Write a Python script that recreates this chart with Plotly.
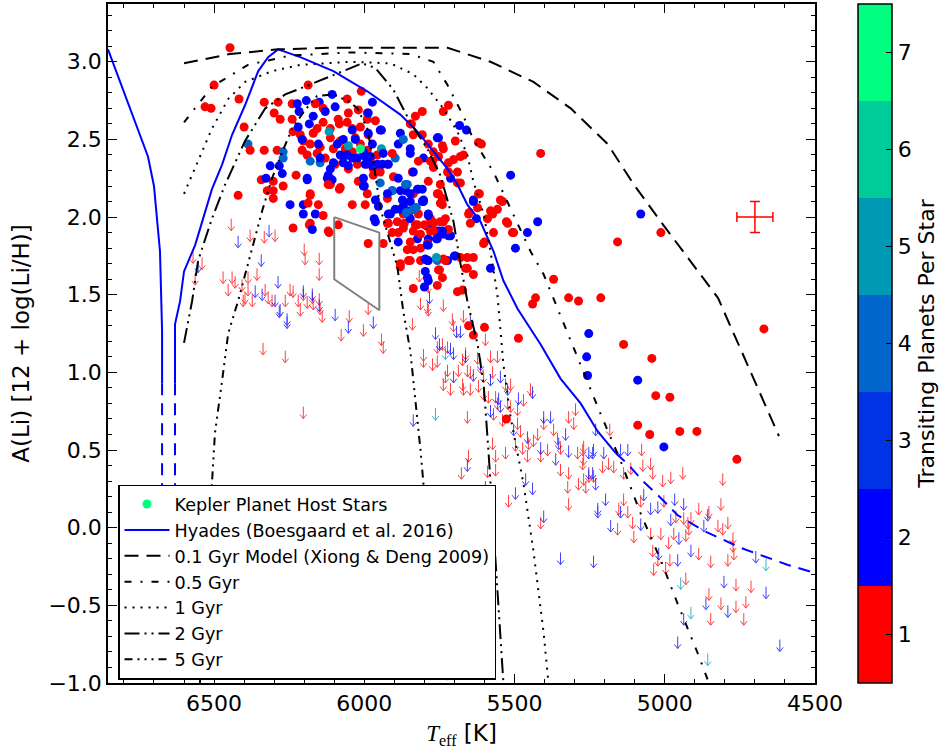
import plotly.graph_objects as go

# ---------------- data ----------------
# Kepler planet hosts with Li detections: Teff [K], A(Li), number of transiting planets
det_teff = [6447,6500,6530,6510,6417,6400,6387,6380,6333,6287,6300,6280,6240,6187,6223,6193,6217,6150,6107,6057,
            6137,6130,6097,6170,6240,6020,5973,5990,5963,5943,5880,5887,5837,5807,5720,5740,5757,5680,5683,5660,
            5620,5610,5843,5847,5847,5803,5773,5720,5770,5713,5690,5617,5637,5580,5627,5753,5740,5837,5823,5807,
            5873,5907,5923,5903,5913,5870,5870,5847,5820,5780,5770,5747,5730,5747,5720,5653,5623,5647,6333,6290,
            6270,6270,6313,6283,6273,6343,6303,6327,6323,6303,6303,6270,6227,6190,6420,6180,6247,6203,6187,6153,
            6203,6163,6180,6237,6117,6087,6113,6120,6040,5997,5990,6020,6000,6083,5967,5923,5867,6237,6213,6203,
            6207,6190,6157,6147,6130,6170,6137,6113,6087,6057,6040,6013,5990,5987,6030,6040,6013,5990,5980,5957,
            5990,6023,6097,6053,5970,6080,6103,6063,6113,6220,6183,6153,6090,6080,6057,6040,6103,6070,6053,6003,
            5987,6117,6053,5943,6013,6180,6147,6010,6163,6053,5987,6083,6157,6207,6180,6070,6040,6030,5987,5947,
            5973,6147,6070,6023,5997,5980,5937,5870,5897,5907,5923,5947,5970,5973,5957,5940,5920,5997,6113,6123,
            6107,6190,6003,6003,5947,5907,5857,5923,5887,5880,5847,5820,5807,5803,5830,5847,5880,5920,5897,5963,
            5953,5963,5857,5847,5837,5787,5790,5787,5753,5757,5737,5713,5887,5823,5787,5790,5797,5790,5757,5723,
            5697,5580,5753,5513,5423,5457,5497,5637,5847,5830,5737,5807,5787,5770,5753,5737,5723,5747,5757,5747,
            5703,5690,5680,5697,5670,5737,5720,5773,5780,5813,5837,5847,5870,5887,5907,5920,5890,5823,5813,5837,
            5857,5847,5880,5813,5753,5730,5680,5657,5637,5663,5637,5620,5590,5573,5557,5540,5523,5503,5570,5603,
            5413,6180,6137,6183,6120,5987,5937,6080,6120,6173,5820,5780,5840,5787,5720,5547,5650,5527,5507,5600,
            5740,5800,5830,5770,5790,5853,5737,5750,5740,5757,5837,5690,5657,5370,5430,5440,5320,5287,5213,5157,
            5013,5837,5863,5803,5787,5740,5760,5790,5787,5800,5787,5080,5827,5860,5863,5487,5527,5600,5637,5653,
            5673,5880,5797,5760,5700,5253,5260,5257,5030,4983,5090,5050,4950,4893,5003,4760,5090,4670,5137,5043]
det_ali = [3.09,2.85,2.71,2.70,2.76,2.58,2.47,2.43,2.74,2.74,2.67,2.63,2.73,2.85,2.73,2.75,2.68,2.74,2.79,2.76,
           2.70,2.68,2.71,2.65,2.63,2.69,2.74,2.67,2.62,2.56,2.54,2.47,2.53,2.68,2.72,2.46,2.51,2.39,2.59,2.56,
           2.48,2.47,2.60,2.44,2.41,2.38,2.36,2.35,2.32,2.25,2.22,2.15,2.11,2.04,1.99,2.15,2.08,2.15,2.18,2.10,
           2.11,2.17,2.12,2.26,2.02,2.02,2.07,2.04,2.02,1.99,1.96,1.97,1.99,1.90,1.88,2.02,2.06,1.96,2.43,2.43,
           2.42,2.38,2.33,2.33,2.28,2.24,2.23,2.25,2.17,2.17,2.12,2.20,2.27,2.24,2.14,2.14,2.08,2.08,2.09,2.08,
           2.02,2.02,1.96,1.93,1.90,1.95,2.21,2.27,2.08,2.08,2.15,2.23,2.20,2.18,1.99,1.96,1.96,2.55,2.53,2.49,
           2.43,2.40,2.41,2.45,2.38,2.54,2.61,2.57,2.63,2.61,2.57,2.58,2.63,2.53,2.51,2.42,2.47,2.43,2.37,2.40,
           2.34,2.34,2.34,2.31,2.27,2.49,2.44,2.44,2.51,2.58,2.60,2.47,2.47,2.40,2.40,2.38,2.35,2.35,2.33,2.42,
           2.38,2.55,2.46,2.44,2.44,2.36,2.35,2.81,2.73,2.67,2.67,2.60,2.57,2.50,2.47,2.50,2.56,2.50,2.54,2.56,
           2.47,2.38,2.39,2.38,2.39,2.39,2.41,2.50,2.38,2.41,2.34,2.29,2.31,2.33,2.34,2.34,2.34,2.34,2.31,2.25,
           2.24,2.25,2.20,2.25,2.22,2.17,2.21,2.15,2.25,2.17,2.15,2.18,2.18,2.10,2.06,2.10,2.05,2.02,2.05,2.11,
           2.07,1.97,2.02,1.99,2.05,2.02,1.94,1.86,1.91,1.86,1.89,1.88,1.84,1.86,1.82,1.72,1.65,1.61,1.72,1.72,
           1.75,1.67,2.51,2.27,1.97,1.90,1.80,2.10,2.60,2.65,2.68,2.53,2.47,2.42,2.39,2.44,2.29,2.21,2.15,2.09,
           2.37,2.29,2.22,2.49,2.40,1.97,1.92,1.97,1.91,1.89,1.91,1.84,1.93,1.90,1.90,1.96,1.97,1.95,1.80,1.79,
           1.79,1.72,1.70,1.72,1.66,1.72,1.74,1.74,1.74,1.67,1.63,2.15,1.99,2.02,2.05,2.10,1.96,1.90,1.90,1.83,
           2.41,2.15,2.01,1.95,1.91,1.83,1.83,2.19,2.21,1.92,2.36,2.36,2.29,2.23,2.29,2.11,2.03,1.97,1.90,1.84,
           2.12,1.95,1.95,1.91,1.83,1.72,1.73,1.66,1.61,1.56,1.54,1.52,1.67,1.60,1.48,1.44,1.48,1.46,1.48,1.84,
           1.90,2.29,2.17,2.11,2.01,1.91,1.86,1.82,1.72,1.55,1.59,2.02,2.06,2.03,2.21,1.22,0.70,1.29,1.24,1.30,
           1.53,1.68,1.73,1.74,1.75,1.25,1.10,0.98,0.85,0.84,0.66,0.60,0.62,0.62,0.52,0.44,0.95,1.28,1.18,1.09]
det_npl = [1,1,1,1,1,1,4,1,1,1,1,1,1,1,2,2,2,2,2,1,
           1,2,2,2,1,1,2,1,1,2,2,2,1,1,1,1,2,1,2,2,
           1,1,1,2,2,2,1,1,1,2,1,1,2,1,2,1,1,1,2,2,
           2,2,1,1,2,1,2,2,1,1,1,1,1,2,2,1,1,1,1,1,
           4,4,2,2,2,1,1,2,1,1,1,1,1,2,1,1,2,2,1,1,
           2,2,1,1,1,1,1,2,1,1,1,1,2,1,2,1,1,1,1,1,
           1,1,1,1,1,1,1,1,1,1,1,1,1,1,1,1,1,1,1,1,
           1,1,1,1,1,1,1,1,1,2,2,2,2,2,2,2,2,2,2,2,
           2,5,5,5,7,4,4,1,1,1,2,1,1,2,1,2,2,2,2,2,
           2,2,2,2,2,2,2,4,4,1,1,1,1,2,2,2,2,2,2,2,
           2,2,2,2,4,4,4,2,2,2,2,2,2,2,2,2,2,2,2,2,
           2,2,4,2,4,2,2,2,2,2,2,2,2,2,2,2,2,2,4,2,
           2,2,2,2,2,2,2,2,1,1,1,1,1,1,1,1,1,1,1,1,
           1,1,1,1,1,1,1,1,1,1,1,1,1,1,1,1,1,1,1,1,
           1,1,1,1,1,1,1,1,1,1,1,1,1,1,1,1,1,1,1,1,
           1,1,1,1,1,1,1,1,1,2,1,1,1,1,1,1,1,1,1,1,
           1,1,1,1,1,1,1,1,1,1,1,1,1,1,1,1,1,1,1,1,
           1,2,2,2,2,2,2,2,2,2,2,2,4,4,4,1,1,1,1,1,
           1,1,2,5,2,2,2,2,1,1,1,1,1,1,2,1,2,1,1,1]

# Kepler planet hosts with Li upper limits
lim_teff = [6443,6380,6333,6297,6317,6420,6343,6570,6540,6553,6563,6470,6440,6430,6407,6387,6357,6330,6320,6307,
            6397,6403,6363,6340,6297,6287,6280,6257,6263,6247,6237,6220,6213,6203,6387,6373,6453,6337,6263,6257,
            6283,6203,6200,6197,6150,6150,6203,6173,6150,6190,6170,6147,6140,6173,6150,6097,6050,6053,6003,6077,
            5987,5970,5943,5937,5817,5813,5790,5737,5783,5840,5763,5750,5803,5730,5787,5787,5707,5670,5703,5647,
            5693,5680,5740,5723,5757,5713,5703,5663,5663,5673,5623,5597,5580,5557,5613,5757,5803,5773,5723,5703,
            5687,5657,5647,5637,5613,5603,5580,5573,5547,5530,5513,5523,5487,5447,5440,5470,5730,5737,5713,5673,
            5670,5647,5620,5603,5587,5563,5553,5557,5547,5523,5513,5490,5580,5570,5540,5503,5490,5480,5457,5453,
            5437,5423,5413,5403,5403,5380,5370,5357,5353,5347,5330,5320,5320,5297,5303,5290,5273,5253,5240,5240,
            5273,5253,5237,5230,5287,5263,5320,5323,5363,5347,5390,5413,5457,5473,5463,5497,5440,5497,5520,5320,
            5413,5403,5347,5237,5223,5563,5530,5563,5573,5590,5597,5653,5657,5677,5657,5763,5837,5230,5183,5270,
            5237,5203,5187,5170,5147,5123,5077,5113,5137,5073,5047,5040,5007,4980,4940,4807,5270,5270,5253,5207,
            5197,5223,5157,5180,5137,5153,5123,5147,5107,5080,5103,5080,5070,5047,5047,5023,5003,4980,4963,4967,
            4937,4923,4913,4937,4887,4857,4853,4813,4823,4807,4790,4773,4773,4770,4790,4870,4887,4847,4920,4930,
            4970,4953,4987,5013,5040,5023,5037,4997,4983,5020,4957,4930,4913,4697,4663,4803,4763,4713,4663,4853,
            4863,4813,4790,4763,4730,4847,4737,4937,4913,4947,4957,4857,4617]
lim_ali = [1.99,1.92,1.91,1.92,1.95,1.88,1.76,1.78,1.74,1.72,1.64,1.65,1.65,1.62,1.60,1.65,1.67,1.57,1.52,1.50,
           1.52,1.50,1.56,1.54,1.50,1.62,1.44,1.38,1.50,1.57,1.56,1.50,1.44,1.56,1.57,1.50,1.57,1.19,1.14,1.36,
           1.43,0.78,1.83,1.77,1.77,1.67,1.54,1.52,1.51,1.49,1.48,1.45,1.40,1.54,1.47,1.41,1.40,1.33,1.31,1.28,
           1.45,1.36,1.25,1.20,1.66,1.48,1.46,1.47,1.52,1.35,1.29,1.22,1.15,1.16,1.59,1.44,1.38,1.40,1.34,1.38,
           1.30,1.30,1.22,1.20,1.20,1.19,1.16,1.16,1.14,1.12,1.13,1.25,1.14,1.14,1.09,1.11,1.11,1.09,1.05,1.01,
           1.05,1.05,1.04,1.02,1.07,1.01,0.99,1.04,1.01,0.96,0.96,0.93,0.87,0.93,0.91,0.86,1.01,0.96,0.93,0.96,
           0.93,0.93,0.95,0.90,0.88,0.88,0.87,0.84,0.82,0.84,0.82,0.80,0.79,0.77,0.73,0.67,0.71,0.66,0.62,0.58,
           0.60,0.64,0.55,0.71,0.75,0.75,0.67,0.61,0.58,0.55,0.64,0.53,0.75,0.80,0.71,0.52,0.54,0.52,0.52,0.39,
           0.45,0.37,0.37,0.32,0.32,0.30,0.39,0.30,0.48,0.41,0.54,0.50,0.50,0.55,0.35,0.57,0.29,0.26,0.21,0.19,
           0.07,0.11,-0.16,-0.18,0.14,0.50,0.52,0.41,0.58,0.40,0.30,0.50,0.44,0.39,0.75,0.77,0.73,0.67,0.67,0.56,
           0.54,0.52,0.45,0.43,0.54,0.54,0.54,0.42,0.39,0.44,0.45,0.39,0.34,0.36,0.39,0.35,0.48,0.35,0.39,0.43,
           0.22,0.16,0.03,0.05,0.22,0.16,0.14,0.14,0.07,0.06,-0.02,0.21,0.25,0.16,0.00,0.17,0.21,0.09,0.11,0.22,
           0.10,0.07,0.10,0.19,0.16,0.12,0.14,0.19,0.05,0.03,0.07,-0.03,-0.08,-0.13,-0.17,0.05,-0.13,-0.18,0.03,-0.01,
           0.00,-0.03,-0.06,0.00,-0.11,-0.17,-0.23,-0.22,-0.17,-0.13,-0.17,-0.29,-0.11,-0.15,-0.20,-0.31,-0.33,-0.34,-0.38,-0.39,
           -0.45,-0.45,-0.50,-0.47,-0.44,-0.55,-0.55,-0.55,-0.51,-0.32,-0.70,-0.81,-0.72]
lim_npl = [1,1,1,1,2,2,2,1,1,2,1,1,1,1,1,1,1,1,1,1,
           1,1,2,2,2,2,2,2,1,1,1,1,1,2,1,1,1,1,1,2,
           2,1,1,1,1,1,1,1,1,1,1,1,1,2,2,2,1,2,1,1,
           1,2,1,1,1,1,1,1,2,1,2,2,1,5,1,1,1,1,1,2,
           2,2,1,1,1,2,2,1,2,1,1,1,1,1,2,1,1,1,1,2,
           1,1,1,2,1,1,2,1,2,1,1,2,2,1,2,1,1,1,1,1,
           1,1,1,1,1,1,2,1,2,1,1,1,2,1,1,2,1,1,2,1,
           1,1,2,1,2,2,1,1,2,1,2,2,1,1,1,1,1,2,2,2,
           1,1,1,2,1,1,1,1,2,1,1,1,1,1,2,1,2,2,1,1,
           1,2,2,2,2,1,1,1,1,1,2,1,2,1,1,5,2,2,1,1,
           2,2,1,1,2,2,1,1,1,1,1,1,1,1,1,1,1,1,2,1,
           2,2,1,2,1,1,1,2,1,2,1,1,2,2,1,2,1,2,1,2,
           1,1,1,2,1,2,1,1,1,1,1,1,1,1,1,2,1,1,1,1,
           1,2,1,1,1,1,1,1,1,2,2,1,2,2,5,2,1,1,2,1,
           2,1,2,1,1,1,1,2,5,5,2,5,2]

# Hyades (Boesgaard et al. 2016)
hya_left_teff = [6853, 6720, 6700, 6680, 6673, 6673]
hya_left_ali = [3.08, 2.39, 2.20, 1.78, 1.27, 0.93]
hya_right_teff = [6630, 6630, 6613, 6600, 6563, 6507, 6473, 6440, 6397, 6353, 6320, 6287, 6213, 6103, 5990,
                  5880, 5823, 5770, 5723, 5690, 5657, 5613, 5570, 5537, 5490, 5413, 5347, 5280, 5223, 5163]
hya_right_ali = [0.93, 1.31, 1.46, 1.65, 1.82, 2.18, 2.34, 2.53, 2.72, 2.94, 3.03, 3.08, 3.03, 2.94, 2.81,
                 2.66, 2.55, 2.42, 2.31, 2.21, 2.08, 1.97, 1.78, 1.59, 1.41, 1.18, 0.96, 0.80, 0.62, 0.48]
hya_ext_left_teff = [6673, 6673]
hya_ext_left_ali = [0.93, -1.0]
hya_ext_mid_teff = [6630, 6630]
hya_ext_mid_ali = [0.93, -1.0]
hya_ext_cool_teff = [5163, 5123, 5073, 5023, 4957, 4870, 4747, 4590, 4503]
hya_ext_cool_ali = [0.48, 0.41, 0.30, 0.21, 0.08, -0.02, -0.13, -0.24, -0.29]

# Xiong & Deng (2009) models
m01_teff = [6600, 6447, 6287, 6113, 5723, 5580, 5437, 5313, 5190, 5103, 5013, 4923, 4823, 4620]
m01_ali = [2.99, 3.05, 3.08, 3.09, 3.09, 3.00, 2.87, 2.70, 2.47, 2.21, 1.97, 1.74, 1.48, 0.59]
m05_teff = [6600, 6507, 6387, 6247, 6047, 5847, 5770, 5723, 5670, 5637, 5570, 5513, 5480, 5447, 5403,
            5357, 5303, 5257, 5213, 5147, 5080, 5013, 4957, 4890, 4853]
m05_ali = [2.61, 2.84, 2.98, 3.04, 3.06, 3.05, 3.00, 2.85, 2.65, 2.50, 2.29, 2.05, 1.92, 1.78, 1.63,
           1.41, 1.16, 0.93, 0.73, 0.43, 0.09, -0.21, -0.49, -0.81, -1.0]
m1_teff = [6600, 6540, 6507, 6453, 6397, 6307, 6213, 6047, 5913, 5837, 5790, 5737, 5690, 5657, 5637,
           5603, 5580, 5557, 5537, 5513, 5470, 5437, 5403, 5387]
m1_ali = [2.15, 2.42, 2.57, 2.76, 2.87, 2.94, 2.98, 3.00, 2.99, 2.92, 2.83, 2.70, 2.55, 2.40, 2.23,
          2.02, 1.78, 1.50, 1.05, 0.71, 0.28, -0.15, -0.68, -1.0]
m2_teff = [6600, 6573, 6553, 6507, 6463, 6397, 6330, 6263, 6197, 6097, 6007, 5963, 5903, 5847, 5790,
           5747, 5703, 5680, 5657, 5623, 5603, 5587, 5580, 5547, 5537]
m2_ali = [1.19, 1.46, 1.72, 1.99, 2.21, 2.49, 2.70, 2.79, 2.84, 2.92, 2.99, 2.96, 2.82, 2.61, 2.44,
          2.27, 1.97, 1.70, 1.46, 1.18, 0.93, 0.50, 0.28, -0.68, -1.0]
m5_teff = [6547, 6507, 6497, 6473, 6453, 6420, 6373, 6340, 6307, 6273, 6240, 6197, 6157, 6103, 6047,
           6023, 5990, 5970, 5947, 5913, 5890, 5870, 5847, 5813, 5803, 5763, 5723]
m5_ali = [-1.0, 0.30, 0.61, 0.95, 1.25, 1.46, 1.80, 2.04, 2.25, 2.42, 2.57, 2.69, 2.78, 2.79, 2.74,
          2.70, 2.57, 2.36, 2.06, 1.84, 1.68, 1.39, 1.14, 0.50, 0.28, -0.34, -1.0]

# grey region
box_teff = [6100, 5950, 5950, 6100, 6100]
box_ali = [2.0, 1.9, 1.4, 1.6, 2.0]

# typical error bar
err_teff = [4700]
err_ali = [2.0]
err_dteff = [60]
err_dali = [0.1]

npl_levels = [1, 2, 3, 4, 5, 6, 7]
npl_colors = ['#ff0000', '#0000ff', '#0033e6', '#0066cc', '#0099b3', '#00cc99', '#00ff80']

FONT = 'DejaVu Sans'

# discrete colour scale
cscale = []
for i, c in enumerate(npl_colors):
    cscale.append([i / len(npl_colors), c])
    cscale.append([(i + 1) / len(npl_colors), c])

fig = go.Figure()

# upper-limit arrows (shaft + head) in data units
ARROW_LEN = 0.078
HEAD_W = 11
HEAD_H = 0.027
for lvl, col in zip(npl_levels, npl_colors):
    xs, ys = [], []
    for t, a, k in zip(lim_teff, lim_ali, lim_npl):
        if k != lvl:
            continue
        tip = a - ARROW_LEN
        xs += [t, t, None, t - HEAD_W, t, t + HEAD_W, None]
        ys += [a, tip, None, tip + HEAD_H, tip, tip + HEAD_H, None]
    if xs:
        fig.add_trace(go.Scatter(x=xs, y=ys, mode='lines', line=dict(color=col, width=1),
                                 opacity=0.75, showlegend=False, hoverinfo='skip'))

# detections
fig.add_trace(go.Scatter(
    x=det_teff, y=det_ali, mode='markers', showlegend=False,
    marker=dict(size=9, color=det_npl, colorscale=cscale, cmin=0.5, cmax=7.5, line=dict(width=0),
                colorbar=dict(x=(858 - 108) / 707, xanchor='left', y=0.5, yanchor='middle',
                              len=1.0, lenmode='fraction', thickness=34, thicknessmode='pixels',
                              xpad=0, ypad=0, outlinecolor='black', outlinewidth=1.5,
                              tickmode='array', tickvals=npl_levels, ticks='inside', ticklen=6,
                              tickcolor='black', tickfont=dict(family=FONT, size=22, color='black'),
                              title=dict(text='Transiting Planets Per Star', side='right',
                                         font=dict(family=FONT, size=22, color='black'))))))

# grey box
fig.add_trace(go.Scatter(x=box_teff, y=box_ali, mode='lines', line=dict(color='#808080', width=2),
                         showlegend=False, hoverinfo='skip'))

# error bar
fig.add_trace(go.Scatter(x=err_teff, y=err_ali, mode='markers', marker=dict(size=1, color='red', opacity=0),
                         error_x=dict(type='data', array=err_dteff, color='red', thickness=1.5, width=5),
                         error_y=dict(type='data', array=err_dali, color='red', thickness=1.5, width=5),
                         showlegend=False, hoverinfo='skip'))

# legend-only entry for host stars
fig.add_trace(go.Scatter(x=[None], y=[None], mode='markers', marker=dict(size=9, color='#00ff80'),
                         name='Kepler Planet Host Stars'))

# Hyades
fig.add_trace(go.Scatter(x=hya_left_teff + [None] + hya_right_teff, y=hya_left_ali + [None] + hya_right_ali,
                         mode='lines', line=dict(color='#0000ff', width=2),
                         name='Hyades (Boesgaard et al. 2016)', legendgroup='hy'))
for tx, ay in [(hya_ext_left_teff, hya_ext_left_ali), (hya_ext_mid_teff, hya_ext_mid_ali),
               (hya_ext_cool_teff, hya_ext_cool_ali)]:
    fig.add_trace(go.Scatter(x=tx, y=ay, mode='lines', line=dict(color='#0000ff', width=2, dash='12px,8px'),
                             showlegend=False, legendgroup='hy', hoverinfo='skip'))

models = [
    (m01_teff, m01_ali, '0.1 Gyr Model (Xiong & Deng 2009)', '14px,8px'),
    (m05_teff, m05_ali, '0.5 Gyr', '7px,9px,2px,9px'),
    (m1_teff, m1_ali, '1 Gyr', '2px,6px'),
    (m2_teff, m2_ali, '2 Gyr', '15px,5px,2px,5px,2px,5px'),
    (m5_teff, m5_ali, '5 Gyr', '8px,5px,2px,5px,2px,5px,2px,5px'),
]
for tx, ay, nm, ds in models:
    fig.add_trace(go.Scatter(x=tx, y=ay, mode='lines', line=dict(color='black', width=2, dash=ds), name=nm))

fig.update_layout(
    width=951, height=755,
    margin=dict(l=108, r=136, t=2, b=72),
    paper_bgcolor='white', plot_bgcolor='white',
    font=dict(family=FONT, size=20, color='black'),
    legend=dict(x=10 / 707, y=(683 - 484) / 681, xanchor='left', yanchor='top',
                bgcolor='white', bordercolor='black', borderwidth=1.5, itemwidth=45,
                font=dict(family=FONT, size=17.6, color='black'), tracegroupgap=0),
    xaxis=dict(range=[6853, 4500], tickmode='array', tickvals=[6500, 6000, 5500, 5000, 4500],
               ticks='inside', ticklen=9, tickwidth=1.2, tickcolor='black',
               minor=dict(tickmode='linear', tick0=4500, dtick=100, ticks='inside', ticklen=4.5,
                          tickcolor='black', tickwidth=1),
               showline=True, linecolor='black', linewidth=1.5, mirror='ticks',
               showgrid=False, zeroline=False, tickfont=dict(family=FONT, size=22),
               title=dict(text="<span style=\"font-family:Liberation Serif\"><i>T</i><sub>eff</sub></span> [K]",
                          font=dict(family=FONT, size=23), standoff=10)),
    yaxis=dict(range=[-1.0, 3.372], tickmode='linear', tick0=0, dtick=0.5, tickformat='.1f',
               ticks='inside', ticklen=9, tickwidth=1.2, tickcolor='black',
               minor=dict(tickmode='linear', tick0=0, dtick=0.1, ticks='inside', ticklen=4.5,
                          tickcolor='black', tickwidth=1),
               showline=True, linecolor='black', linewidth=1.5, mirror='ticks',
               showgrid=False, zeroline=False, tickfont=dict(family=FONT, size=22),
               title=dict(text='A(Li) [12 + log(Li/H)]', font=dict(family=FONT, size=23), standoff=12)),
)

fig.write_html('out.html')
